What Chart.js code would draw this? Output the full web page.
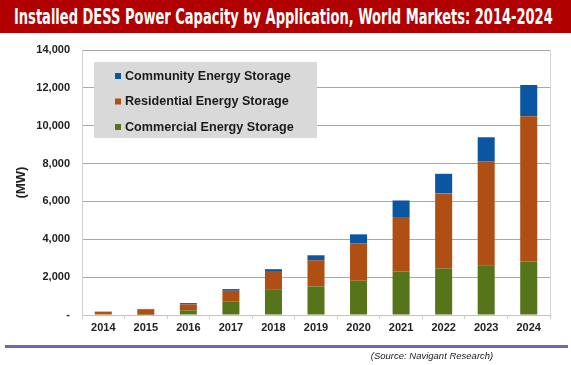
<!DOCTYPE html>
<html>
<head>
<meta charset="utf-8">
<script src="https://cdn.jsdelivr.net/npm/chart.js@4/dist/chart.umd.min.js"></script>
<style>
  html, body { margin: 0; padding: 0; background: #fff; }
  #page { position: relative; width: 571px; height: 365px; overflow: hidden; }
  #title {
    position: absolute; left: 0; top: 0; width: 571px; height: 33px;
    background: #b00000; color: #fff; z-index: 2;
    font-family: "DejaVu Sans Condensed", "DejaVu Sans", sans-serif;
    font-weight: bold; font-size: 21.5px; line-height: 33px; white-space: nowrap;
  }
  #title span { position: absolute; left: 14px; top: 0; transform-origin: 0 50%; }
  #wrap { position: absolute; left: 0; top: 0; width: 571px; height: 365px; }
  #rule { position: absolute; left: 5px; top: 345px; width: 563px; height: 3px; background: #6b69ac; }
  #source {
    position: absolute; left: 362px; top: 350px; width: 140px; text-align: center;
    font-family: "Liberation Sans", Arial, sans-serif; font-style: italic; font-size: 9.5px; color: #222;
    white-space: nowrap;
  }
</style>
</head>
<body>
<div id="page">
  <div id="title"><span>Installed DESS Power Capacity by Application, World Markets: 2014-2024</span></div>
  <div id="wrap"><canvas id="chart" width="571" height="365"></canvas></div>
  <div id="rule"></div>
  <div id="source">(Source: Navigant Research)</div>
</div>
<script>
const years = ["2014", "2015", "2016", "2017", "2018", "2019", "2020", "2021", "2022", "2023", "2024"];
const commercial = [0, 15, 245, 700, 1330, 1510, 1810, 2300, 2460, 2630, 2820];
const residential = [180, 290, 315, 580, 950, 1385, 1980, 2875, 3965, 5490, 7680];
const community = [0, 15, 70, 90, 140, 260, 470, 875, 1035, 1270, 1650];
const yTicks = [0, 2000, 4000, 6000, 8000, 10000, 12000, 14000];

// stretch the title to the width it has in the picture
const t = document.querySelector("#title span");
t.style.transform = `scaleX(${539 / t.offsetWidth})`;

const tickFont = { family: "Liberation Sans, Arial, sans-serif", size: 11, weight: "bold" };

// grey legend box inside the plot + right edge line
const framePlugin = {
    id: "frame",
    afterDraw(chart) {
        const { ctx, chartArea: a } = chart;
        ctx.save();
        ctx.strokeStyle = "#d6d6d6";
        ctx.lineWidth = 1;
        ctx.beginPath();
        ctx.moveTo(a.right + 0.5, a.top);
        ctx.lineTo(a.right + 0.5, a.bottom);
        ctx.stroke();

        const bx = a.left + 12, by = a.top + 12;
        ctx.fillStyle = "#d9d9d9";
        ctx.fillRect(bx, by, 223, 76);

        ctx.font = "bold 12.6px 'Liberation Sans', Arial, sans-serif";
        ctx.textBaseline = "middle";
        const items = [...chart.data.datasets].reverse();
        items.forEach((ds, i) => {
            const y = by + 14 + i * 25.5;
            ctx.fillStyle = ds.backgroundColor;
            ctx.fillRect(bx + 21, y - 3, 6, 6);
            ctx.fillStyle = "#1a1a1a";
            ctx.fillText(ds.label, bx + 31, y + 0.5);
        });
        ctx.restore();
    }
};

new Chart(document.getElementById("chart"), {
    type: "bar",
    data: {
        labels: years,
        datasets: [
            { label: "Commercial Energy Storage", data: commercial, backgroundColor: "#56741a" },
            { label: "Residential Energy Storage", data: residential, backgroundColor: "#b04f14" },
            { label: "Community Energy Storage", data: community, backgroundColor: "#0a56a2" }
        ]
    },
    options: {
        responsive: false,
        animation: false,
        devicePixelRatio: 1,
        categoryPercentage: 0.8,
        barPercentage: 0.5,
        layout: { padding: { top: 50, right: 21, left: 0, bottom: 24 } },
        plugins: { legend: { display: false }, tooltip: { enabled: false } },
        scales: {
            x: {
                stacked: true,
                grid: { drawOnChartArea: false, drawTicks: true, tickLength: 4, color: "#d0d0d0", offset: true },
                border: { color: "#c4c4c4" },
                ticks: { font: tickFont, color: "#222", padding: 2, maxRotation: 0 },
                afterFit: s => { s.height = 26; }
            },
            y: {
                stacked: true,
                min: 0,
                max: 14000,
                afterBuildTicks: s => { s.ticks = yTicks.map(v => ({ value: v })); },
                grid: { color: "#a9a9a9", drawTicks: false },
                border: { color: "#cfcfcf" },
                ticks: {
                    font: tickFont, color: "#222", padding: 12,
                    callback: v => v === 0 ? "-" : v.toLocaleString("en-US")
                },
                title: {
                    display: true, text: "(MW)", color: "#222",
                    font: { family: "Liberation Sans, Arial, sans-serif", size: 13, weight: "bold" },
                    padding: { top: 14, bottom: 0 }
                },
                afterFit: s => { s.width = 82; }
            }
        }
    },
    plugins: [framePlugin]
});
</script>
</body>
</html>
